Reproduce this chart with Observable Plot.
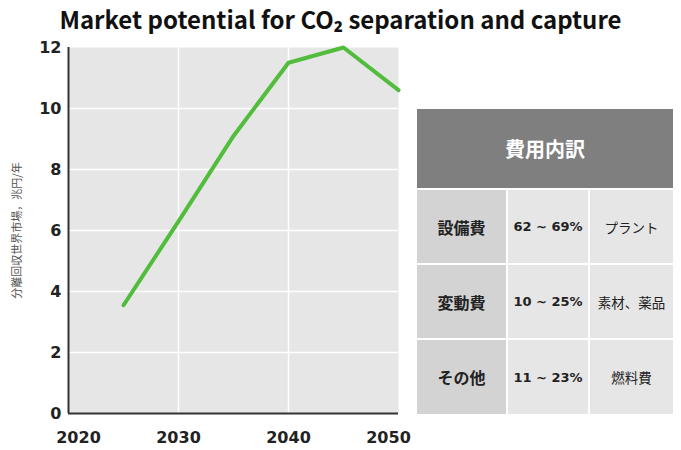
<!DOCTYPE html>
<html>
<head>
<meta charset="utf-8">
<script src="https://cdn.jsdelivr.net/npm/d3@7"></script>
<script src="https://cdn.jsdelivr.net/npm/@observablehq/plot@0.6"></script>
<style>
  html, body { margin: 0; padding: 0; background: #fff; }
  #wrap { position: relative; width: 681px; height: 450px; overflow: hidden; }
  #title { position: absolute; left: 0; top: 2px; width: 681px; text-align: center;
    font-family: "Noto Sans CJK JP", "Noto Sans", sans-serif; font-weight: 700; font-size: 24px; color: #111; line-height: 34px; }
  #chart { position: absolute; left: 0; top: 40px; }
  #table { position: absolute; left: 417px; top: 109px; width: 256px;
    display: grid; grid-template-columns: 89px 80px 83px; grid-template-rows: 79px 73px 73px 74px; gap: 2px;
    font-family: "Noto Sans CJK JP", sans-serif; background: #fff; }
  #table div { display: flex; align-items: center; justify-content: center; color: #222; white-space: nowrap; }
  #table .head { grid-column: 1 / span 3; background: #7f7f7f; color: #fff; font-weight: 700; font-size: 20px; }
  #table .c1 { background: #d3d3d3; font-weight: 700; font-size: 16px; }
  #table .c2 { background: #e6e6e6; font-weight: 700; font-size: 13px; font-family: "DejaVu Sans", sans-serif; }
  #table .c3 { background: #e6e6e6; font-size: 13.5px; }
</style>
</head>
<body>
<div id="wrap">
  <div id="title"></div>
  <div id="chart"></div>
  <div id="table"></div>
</div>
<script>
const titleText = "Market potential for CO₂ separation and capture";
const yLabel = "分離回収世界市場，兆円/年";
const years = [2025, 2030, 2035, 2040, 2045, 2050];
const market = [3.55, 6.3, 9.1, 11.5, 12.0, 10.6];
const xTicks = [2020, 2030, 2040, 2050];
const yTicks = [0, 2, 4, 6, 8, 10, 12];
const tableHeader = "費用内訳";
const costItems = ["設備費", "変動費", "その他"];
const costShares = ["62 ~ 69%", "10 ~ 25%", "11 ~ 23%"];
const costExamples = ["プラント", "素材、薬品", "燃料費"];

document.getElementById("title").textContent = titleText;

const data = years.map((y, i) => ({year: y, value: market[i]}));

const tickFont = {fontSize: 16, fontWeight: 700, fill: "#222", fontFamily: "'DejaVu Sans', sans-serif"};

const chart = Plot.plot({
  width: 681,
  height: 410,
  marginLeft: 68,
  marginRight: 283,
  marginTop: 7,
  marginBottom: 37,
  x: {domain: [2020, 2050]},
  y: {domain: [0, 12]},
  style: {background: "transparent", overflow: "visible"},
  marks: [
    Plot.frame({fill: "#e6e6e6", stroke: null}),
    Plot.gridX([2030, 2040], {stroke: "#fff", strokeOpacity: 1, strokeWidth: 1.5}),
    Plot.gridY([2, 4, 6, 8, 10], {stroke: "#fff", strokeOpacity: 1, strokeWidth: 1.5}),
    Plot.axisX([xTicks[0]], {tickSize: 0, tickPadding: 18, label: null, tickFormat: d => String(d), dx: 10, ...tickFont}),
    Plot.axisX(xTicks.slice(1, -1), {tickSize: 0, tickPadding: 18, label: null, tickFormat: d => String(d), ...tickFont}),
    Plot.axisX([xTicks[xTicks.length - 1]], {tickSize: 0, tickPadding: 18, label: null, tickFormat: d => String(d), dx: -10, ...tickFont}),
    Plot.axisY(yTicks, {tickSize: 0, tickPadding: 7, label: null, ...tickFont}),
    Plot.axisY({ticks: [], tickSize: 0, label: yLabel, labelAnchor: "center", labelArrow: "none", labelOffset: 55,
      fontSize: 11, fill: "#555", fontFamily: "'Noto Sans CJK JP', sans-serif"}),
    Plot.ruleX([2020], {stroke: "#333", strokeWidth: 2}),
    Plot.ruleY([0], {stroke: "#333", strokeWidth: 2}),
    Plot.line(data, {x: "year", y: "value", stroke: "#52bd3c", strokeWidth: 4, strokeLinejoin: "miter"})
  ]
});
document.getElementById("chart").appendChild(chart);

const table = document.getElementById("table");
const addCell = (cls, text) => { const d = document.createElement("div"); d.className = cls; d.textContent = text; table.appendChild(d); };
addCell("head", tableHeader);
costItems.forEach((item, i) => {
  addCell("c1", item);
  addCell("c2", costShares[i]);
  addCell("c3", costExamples[i]);
});
</script>
</body>
</html>
